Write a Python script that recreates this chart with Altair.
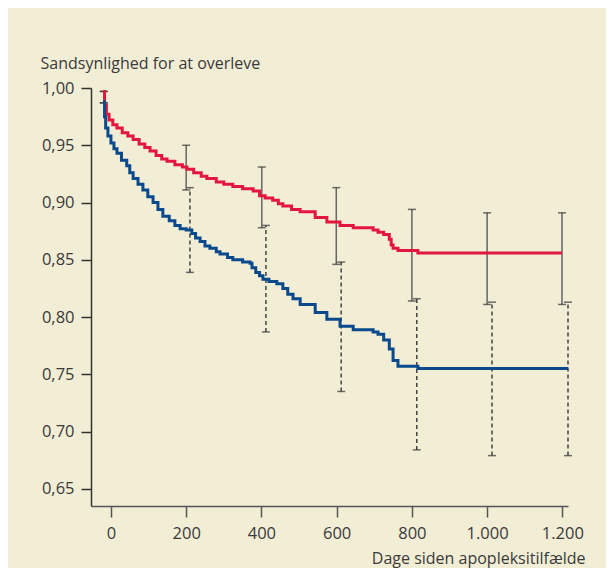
import altair as alt
import pandas as pd

# Kaplan-Meier curves (days, survival probability)
red_days = [-21, -17, -12, -5, 5, 16, 30, 45, 59, 75, 90, 104, 120, 135, 149, 170, 190, 202,
            220, 240, 255, 280, 300, 324, 350, 378, 395, 410, 430, 445, 457, 480, 503, 543,
            574, 609, 644, 697, 710, 725, 740, 745, 750, 763, 816, 1199]
red_surv = [0.997, 0.985, 0.977, 0.972, 0.968, 0.965, 0.961, 0.958, 0.955, 0.951, 0.948, 0.945,
            0.941, 0.938, 0.936, 0.933, 0.931, 0.929, 0.926, 0.923, 0.921, 0.918, 0.916, 0.914,
            0.912, 0.910, 0.906, 0.904, 0.902, 0.899, 0.897, 0.894, 0.892, 0.887, 0.883, 0.880,
            0.878, 0.876, 0.874, 0.872, 0.868, 0.863, 0.860, 0.858, 0.856, 0.856]

blue_days = [-21, -17, -14, -8, 0, 8, 16, 28, 42, 50, 59, 72, 85, 98, 112, 125, 138, 155, 170,
             184, 200, 215, 225, 237, 250, 263, 280, 290, 310, 324, 350, 370, 375, 385, 395,
             404, 420, 441, 457, 470, 484, 503, 543, 574, 609, 644, 697, 710, 725, 740, 750,
             763, 816, 1215]
blue_surv = [0.988, 0.975, 0.965, 0.958, 0.952, 0.947, 0.943, 0.937, 0.932, 0.926, 0.921, 0.916,
             0.911, 0.905, 0.900, 0.894, 0.888, 0.884, 0.880, 0.877, 0.876, 0.873, 0.869, 0.866,
             0.862, 0.860, 0.857, 0.855, 0.852, 0.850, 0.848, 0.847, 0.843, 0.839, 0.836, 0.833,
             0.831, 0.829, 0.825, 0.820, 0.816, 0.811, 0.804, 0.798, 0.792, 0.789, 0.787, 0.785,
             0.780, 0.772, 0.762, 0.757, 0.755, 0.755]

# Confidence intervals
red_bar_days = [-19, 200, 401, 599, 800, 1000, 1199]
red_bar_low = [0.997, 0.911, 0.878, 0.846, 0.814, 0.811, 0.811]
red_bar_high = [0.997, 0.950, 0.931, 0.913, 0.894, 0.891, 0.891]

blue_bar_days = [-19, 210, 412, 612, 813, 1013, 1215]
blue_bar_low = [0.987, 0.839, 0.787, 0.735, 0.684, 0.679, 0.679]
blue_bar_high = [0.987, 0.913, 0.880, 0.848, 0.816, 0.813, 0.813]

x_ticks = [0, 200, 400, 600, 800, 1000, 1200]
y_ticks = [0.65, 0.70, 0.75, 0.80, 0.85, 0.90, 0.95, 1.00]

curves = pd.concat([
    pd.DataFrame({"dag": red_days, "p": red_surv, "gruppe": "red"}),
    pd.DataFrame({"dag": blue_days, "p": blue_surv, "gruppe": "blue"}),
])
red_bars = pd.DataFrame({"dag": red_bar_days, "lo": red_bar_low, "hi": red_bar_high})
blue_bars = pd.DataFrame({"dag": blue_bar_days, "lo": blue_bar_low, "hi": blue_bar_high})

FONT = "Open Sans"
TXT = "#3a3a3a"
AX = "#555555"

xscale = alt.Scale(domain=[-53, 1215], nice=False, zero=False)
yscale = alt.Scale(domain=[0.635, 1.0], nice=False, zero=False)

xaxis = alt.Axis(values=x_ticks, labelExpr="replace(format(datum.value, ','), ',', '.')",
                 title="Dage siden apopleksitilfælde", titleX=494, titleY=52,
                 titleAlign="right", titleBaseline="middle", titleFont=FONT, titleFontSize=16,
                 titleFontWeight="normal", titleColor=TXT, grid=False, tickSize=11,
                 labelPadding=8, labelFont=FONT, labelFontSize=16.5, labelColor=TXT,
                 domainColor=AX, domainWidth=1.5, tickColor=AX, tickWidth=1.5)
yaxis = alt.Axis(values=y_ticks, labelExpr="replace(format(datum.value, '.2f'), '.', ',')",
                 title="Sandsynlighed for at overleve", titleAngle=0, titleX=-51, titleY=-25,
                 titleAlign="left", titleBaseline="middle", titleFont=FONT, titleFontSize=16,
                 titleFontWeight="normal", titleColor=TXT, grid=False, tickSize=10,
                 labelPadding=7, labelFont=FONT, labelFontSize=16.5, labelColor=TXT,
                 domainColor="#333333", domainWidth=1.5, tickColor="#333333", tickWidth=1.5)

lines = alt.Chart(curves).mark_line(interpolate="step-after", strokeWidth=3).encode(
    x=alt.X("dag:Q", scale=xscale, axis=xaxis),
    y=alt.Y("p:Q", scale=yscale, axis=yaxis),
    color=alt.Color("gruppe:N", scale=alt.Scale(domain=["red", "blue"],
                                                 range=["#e3173e", "#0a4a8c"]), legend=None),
    detail="gruppe:N",
)

def bars(df, dash, color):
    rule = alt.Chart(df).mark_rule(strokeWidth=1.5, color=color, strokeDash=dash).encode(
        x=alt.X("dag:Q", scale=xscale), y=alt.Y("lo:Q", scale=yscale), y2="hi:Q")
    top = alt.Chart(df).mark_tick(orient="horizontal", size=8, thickness=1.5, color="#333333").encode(
        x=alt.X("dag:Q", scale=xscale), y=alt.Y("hi:Q", scale=yscale))
    bot = alt.Chart(df).mark_tick(orient="horizontal", size=8, thickness=1.5, color="#333333").encode(
        x=alt.X("dag:Q", scale=xscale), y=alt.Y("lo:Q", scale=yscale))
    return [rule, top, bot]

chart = alt.layer(
    *bars(blue_bars, [4, 3], "#444444"),
    *bars(red_bars, [1, 0], "#666666"),
    lines,
).properties(
    width=477, height=418, autosize="none",
    padding={"left": 83, "top": 80, "right": 38, "bottom": 62},
    background="#f2edd5",
).configure_view(stroke=None)

chart.save("out.html", embed_options={"renderer": "svg", "actions": False})
